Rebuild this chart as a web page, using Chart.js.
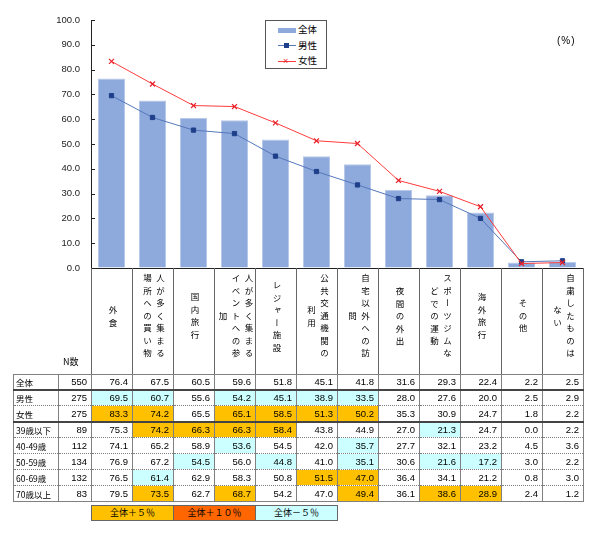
<!DOCTYPE html>
<html lang="ja">
<head>
<meta charset="UTF-8">
<title>外出・行動の変化</title>
<script src="https://cdn.jsdelivr.net/npm/chart.js"></script>
<style>
    body { margin: 0; background: #fff; font-family: "Liberation Sans", "Noto Sans CJK JP", sans-serif; color: #000; }
    #wrap { position: relative; width: 600px; height: 539px; overflow: hidden; }
    #chartBox { position: absolute; left: 0; top: 0; width: 600px; height: 280px; }
    .abs { position: absolute; }
    .legend { left: 265px; top: 20px; width: 62px; height: 49px; border: 1px solid #555; box-sizing: border-box; background: #fff; }
    .legend .item { position: absolute; left: 32px; font-size: 9.5px; line-height: 12px; }
    .hcol { position: absolute; top: 272px; height: 92px; width: 41px; display: flex; justify-content: center; align-items: center; }
    .vtext { writing-mode: vertical-rl; font-family: "Noto Sans CJK JP", sans-serif; font-size: 8.5px; line-height: 13px; letter-spacing: 4px; text-align: center; }
    table { position: absolute; left: 13px; top: 374px; border-collapse: collapse; table-layout: fixed; }
    td { height: 15px; padding: 0 4px 0 0; border-left: 1px solid #808080; border-right: 1px solid #808080; border-top: 1px dotted #808080; border-bottom: 1px dotted #808080; text-align: right; font-size: 9.5px; line-height: 14px; white-space: nowrap; overflow: hidden; }
    td.name { text-align: left; padding: 0 0 0 2px; font-family: "Noto Sans CJK JP", sans-serif; font-size: 8.5px; }
    tr.thick td { border-top: 2px solid #444; height: 14px; }
    tr.first td { border-top: 1px solid #808080; height: 14px; }
    tr.last td { border-bottom: 1px solid #808080; }
    .up5 { background: #FFC000; }
    .up10 { background: #FF6600; }
    .down5 { background: #CCFFFF; }
    .key { position: absolute; top: 505px; height: 16px; width: 83px; box-sizing: border-box; border: 1px solid #666; font-family: "Noto Sans CJK JP", sans-serif; font-size: 9px; line-height: 14px; text-align: center; }
</style>
</head>
<body>
<div id="wrap">
    <div id="chartBox"><canvas id="mainChart" width="600" height="280"></canvas></div>
</div>

<script>
// items (column headers)
const categories = ["外食", "人が多く集まる場所への買い物", "国内旅行", "人が多く集まるイベントへの参加", "レジャー施設",
    "公共交通機関の利用", "自宅以外への訪問", "夜間の外出", "スポーツジムなどでの運動", "海外旅行", "その他", "自粛したものはない"];

// table rows
const rowLabels = ["全体", "男性", "女性", "39歳以下", "40-49歳", "50-59歳", "60-69歳", "70歳以上"];
const rowN = [550, 275, 275, 89, 112, 134, 132, 83];

const total   = [76.4, 67.5, 60.5, 59.6, 51.8, 45.1, 41.8, 31.6, 29.3, 22.4, 2.2, 2.5];
const male    = [69.5, 60.7, 55.6, 54.2, 45.1, 38.9, 33.5, 28.0, 27.6, 20.0, 2.5, 2.9];
const female  = [83.3, 74.2, 65.5, 65.1, 58.5, 51.3, 50.2, 35.3, 30.9, 24.7, 1.8, 2.2];
const age39   = [75.3, 74.2, 66.3, 66.3, 58.4, 43.8, 44.9, 27.0, 21.3, 24.7, 0.0, 2.2];
const age40s  = [74.1, 65.2, 58.9, 53.6, 54.5, 42.0, 35.7, 27.7, 32.1, 23.2, 4.5, 3.6];
const age50s  = [76.9, 67.2, 54.5, 56.0, 44.8, 41.0, 35.1, 30.6, 21.6, 17.2, 3.0, 2.2];
const age60s  = [76.5, 61.4, 62.9, 58.3, 50.8, 51.5, 47.0, 36.4, 34.1, 21.2, 0.8, 3.0];
const age70   = [79.5, 73.5, 62.7, 68.7, 54.2, 47.0, 49.4, 36.1, 38.6, 28.9, 2.4, 1.2];
const tableRows = [total, male, female, age39, age40s, age50s, age60s, age70];

const yTicks = [0, 10, 20, 30, 40, 50, 60, 70, 80, 90, 100];
const keyLabels = ["全体＋５％", "全体＋１０％", "全体－５％"];

const wrap = document.getElementById("wrap");
const colLeft = 91, colW = 41;

function addDiv(cls, style, html) {
    const d = document.createElement("div");
    d.className = cls;
    d.style.cssText = style;
    d.innerHTML = html || "";
    wrap.appendChild(d);
    return d;
}

// short tick marks on the inside of the y axis
const innerTicks = {
    id: "innerTicks",
    afterDraw(chart) {
        const y = chart.scales.y, ctx = chart.ctx;
        ctx.save();
        ctx.strokeStyle = "#222";
        ctx.lineWidth = 1;
        y.ticks.forEach(t => {
            const py = Math.round(y.getPixelForValue(t.value)) + 0.5;
            ctx.beginPath();
            ctx.moveTo(y.right, py);
            ctx.lineTo(y.right + 4, py);
            ctx.stroke();
        });
        ctx.restore();
    }
};

// chart
new Chart(document.getElementById("mainChart"), {
    data: {
        labels: categories,
        datasets: [
            { type: "line", label: "女性", data: female, order: 0, borderColor: "#FF3B3B", borderWidth: 1,
              pointStyle: "crossRot", pointRadius: 3.5, pointBorderColor: "#E8202A", pointBorderWidth: 1.2, tension: 0 },
            { type: "line", label: "男性", data: male, order: 1, borderColor: "#5577BB", borderWidth: 1,
              pointStyle: "rect", pointRadius: 3, pointBackgroundColor: "#1F3F8A", pointBorderColor: "#1F3F8A", tension: 0 },
            { type: "bar", label: "全体", data: total, order: 2, backgroundColor: "#8EA9DB",
              borderColor: "#B8C9EA", borderWidth: 1, barPercentage: 0.66, categoryPercentage: 1 }
        ]
    },
    options: {
        responsive: false,
        animation: false,
        layout: { padding: { top: 20, right: 17, left: 0, bottom: 12 } },
        plugins: { legend: { display: false }, tooltip: { enabled: false } },
        scales: {
            x: { display: false },
            y: {
                min: 0, max: 100,
                afterBuildTicks: s => { s.ticks = yTicks.map(v => ({ value: v })); },
                afterFit: s => { s.width = 91; },
                ticks: { callback: v => v.toFixed(1), padding: 3, color: "#222", font: { family: "Liberation Sans", size: 9.5 } },
                grid: { drawOnChartArea: false, drawTicks: true, tickLength: 8, color: "rgba(0,0,0,0)" },
                border: { color: "#222" }
            }
        }
    },
    plugins: [innerTicks]
});

// legend box
const lg = addDiv("abs legend", "", "");
lg.innerHTML =
    '<div class="abs" style="left:12px;top:7px;width:18px;height:5px;background:#8EA9DB"></div>' +
    '<div class="item" style="top:3px">全体</div>' +
    '<div class="abs" style="left:12px;top:24px;width:18px;height:1px;background:#5577BB"></div>' +
    '<div class="abs" style="left:18px;top:22px;width:5px;height:5px;background:#1F3F8A"></div>' +
    '<div class="item" style="top:19px">男性</div>' +
    '<div class="abs" style="left:12px;top:40px;width:18px;height:1px;background:#FF3B3B"></div>' +
    '<div class="abs" style="left:17px;top:34px;font-size:9px;line-height:12px;color:#E8202A">×</div>' +
    '<div class="item" style="top:34px">女性</div>';

addDiv("abs", "left:557px;top:35px;font-size:10px;letter-spacing:1px;", "(%)");

// x axis line and header column lines
addDiv("abs", "left:91px;top:268px;width:493px;height:1px;background:#222;", "");
for (let i = 0; i <= categories.length; i++) {
    addDiv("abs", "left:" + (colLeft + i * colW) + "px;top:268px;width:1px;height:106px;background:#666;", "");
}
categories.forEach((c, i) => {
    const parts = [];
    for (let k = 0; k < c.length; k += 7) parts.push(c.slice(k, k + 7));
    addDiv("hcol", "left:" + (colLeft + i * colW + 1) + "px;", '<span class="vtext">' + parts.join("<br>") + "</span>");
});
addDiv("abs", "left:63px;top:356px;font-family:'Noto Sans CJK JP';font-size:9px;line-height:12px;", "N数");

// data table
const tbl = document.createElement("table");
const cg = document.createElement("colgroup");
[45, 33].concat(categories.map(() => colW)).forEach(w => {
    const col = document.createElement("col");
    col.style.width = w + "px";
    cg.appendChild(col);
});
tbl.appendChild(cg);
tableRows.forEach((vals, r) => {
    const tr = document.createElement("tr");
    if (r === 0) tr.className = "first";
    if (r === 1 || r === 3) tr.className = "thick";
    if (r === tableRows.length - 1) tr.className = "last";
    let html = '<td class="name">' + rowLabels[r] + "</td><td>" + rowN[r] + "</td>";
    vals.forEach((v, i) => {
        let cls = "";
        if (r > 0) {
            const d = Math.round((v - total[i]) * 10) / 10;
            if (d >= 10) cls = "up10";
            else if (d > 5) cls = "up5";
            else if (d < -5) cls = "down5";
        }
        html += '<td class="' + cls + '">' + v.toFixed(1) + "</td>";
    });
    tr.innerHTML = html;
    tbl.appendChild(tr);
});
wrap.appendChild(tbl);
tbl.style.width = (45 + 33 + categories.length * colW) + "px";

// colour key
const keyColors = ["#FFC000", "#FF6600", "#CCFFFF"];
keyLabels.forEach((t, i) => {
    addDiv("key", "left:" + (91 + i * 82) + "px;background:" + keyColors[i] + ";", t);
});
</script>
</body>
</html>
